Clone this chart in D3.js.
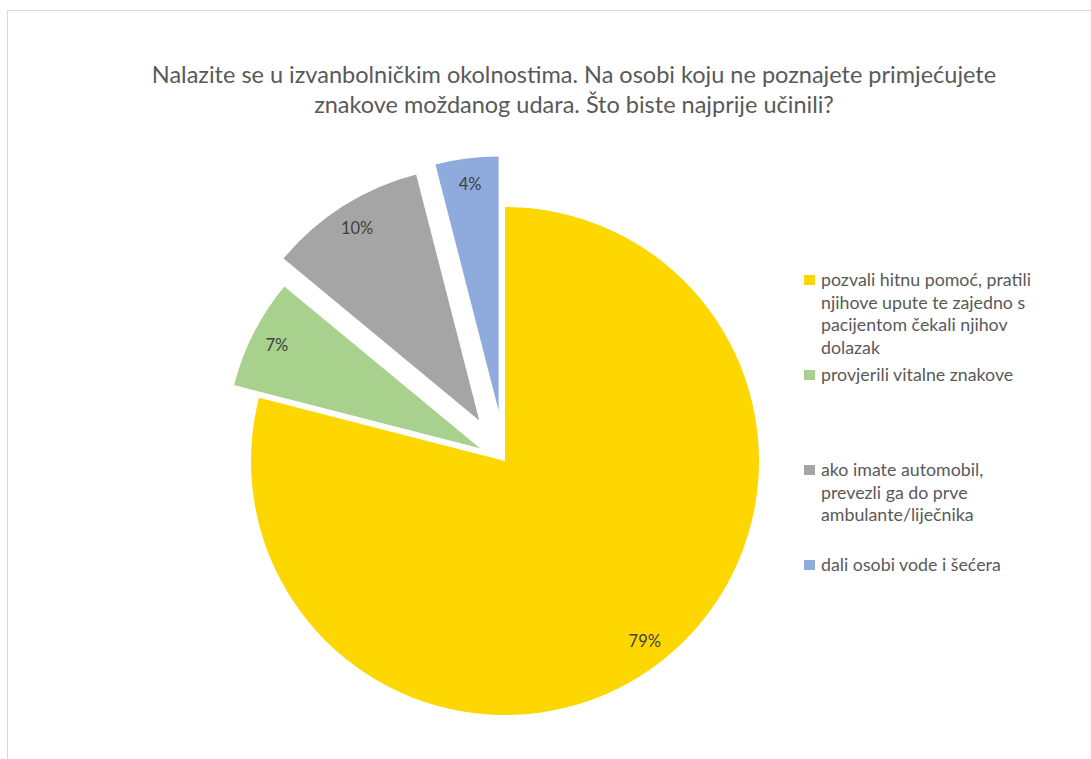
<!DOCTYPE html>
<html>
<head>
<meta charset="utf-8">
<script src="https://cdn.jsdelivr.net/npm/d3@7"></script>
<style>
    html, body { margin: 0; padding: 0; background: #fff; overflow: hidden; }
    text { font-family: Lato, "Open Sans", sans-serif; }
</style>
</head>
<body>
<script>
(function () {
    "use strict";

    // data
    var categories = [
        "pozvali hitnu pomoć, pratili njihove upute te zajedno s pacijentom čekali njihov dolazak",
        "provjerili vitalne znakove",
        "ako imate automobil, prevezli ga do prve ambulante/liječnika",
        "dali osobi vode i šećera"
    ];
    var values = [79, 7, 10, 4];
    var legendLines = [
        ["pozvali hitnu pomoć, pratili", "njihove upute te zajedno s", "pacijentom čekali njihov", "dolazak"],
        ["provjerili vitalne znakove"],
        ["ako imate automobil,", "prevezli ga do prve", "ambulante/liječnika"],
        ["dali osobi vode i šećera"]
    ];
    var titleLines = [
        "Nalazite se u izvanbolničkim okolnostima. Na osobi koju ne poznajete primjećujete",
        "znakove moždanog udara. Što biste najprije učinili?"
    ];

    // styles
    var colors = ["#FFD700", "#A9D18E", "#A5A5A5", "#8FAADC"];
    var explode = [0, 28, 48, 51];

    var width = 1091, height = 759;
    var cx = 505, cy = 461, radius = 254;

    var svg = d3.select("body").append("svg")
        .attr("width", width)
        .attr("height", height);

    // chart border (clipped by the window on the right/bottom)
    svg.append("rect")
        .attr("x", 7.5).attr("y", 10.5)
        .attr("width", width + 20).attr("height", height + 20)
        .attr("fill", "none")
        .attr("stroke", "#d9d9d9")
        .attr("stroke-width", 1);

    // title
    svg.append("g").selectAll("text")
        .data(titleLines)
        .join("text")
        .attr("x", 574)
        .attr("y", function (d, i) { return 83 + i * 30; })
        .attr("text-anchor", "middle")
        .attr("fill", "#595959")
        .attr("font-size", "23.5px")
        .text(function (d) { return d; });

    // pie
    var pie = d3.pie().sort(null).value(function (d) { return d; });
    var arcs = pie(values);
    var arc = d3.arc().innerRadius(0).outerRadius(radius);
    var labelArc = d3.arc().innerRadius(228).outerRadius(228);

    var slices = svg.append("g")
        .attr("transform", "translate(" + cx + "," + cy + ")")
        .selectAll("g")
        .data(arcs)
        .join("g")
        .attr("transform", function (d, i) {
            var a = (d.startAngle + d.endAngle) / 2;
            return "translate(" + (Math.sin(a) * explode[i]) + "," + (-Math.cos(a) * explode[i]) + ")";
        });

    slices.append("path")
        .attr("d", arc)
        .attr("fill", function (d, i) { return colors[i]; });

    slices.append("text")
        .attr("transform", function (d) { return "translate(" + labelArc.centroid(d) + ")"; })
        .attr("text-anchor", "middle")
        .attr("dy", "0.35em")
        .attr("fill", "#404040")
        .attr("font-size", "16.5px")
        .text(function (d) { return d.data + "%"; });

    // legend
    var legend = svg.append("g").selectAll("g")
        .data(categories)
        .join("g")
        .attr("transform", function (d, i) { return "translate(804," + (280 + i * 95) + ")"; });

    legend.append("rect")
        .attr("x", 0).attr("y", -5)
        .attr("width", 11).attr("height", 10)
        .attr("fill", function (d, i) { return colors[i]; });

    legend.append("text")
        .attr("fill", "#595959")
        .attr("font-size", "17.8px")
        .selectAll("tspan")
        .data(function (d, i) { return legendLines[i]; })
        .join("tspan")
        .attr("x", 17)
        .attr("y", function (d, j) { return j * 22.6; })
        .attr("dy", "0.35em")
        .text(function (d) { return d; });
})();
</script>
</body>
</html>
